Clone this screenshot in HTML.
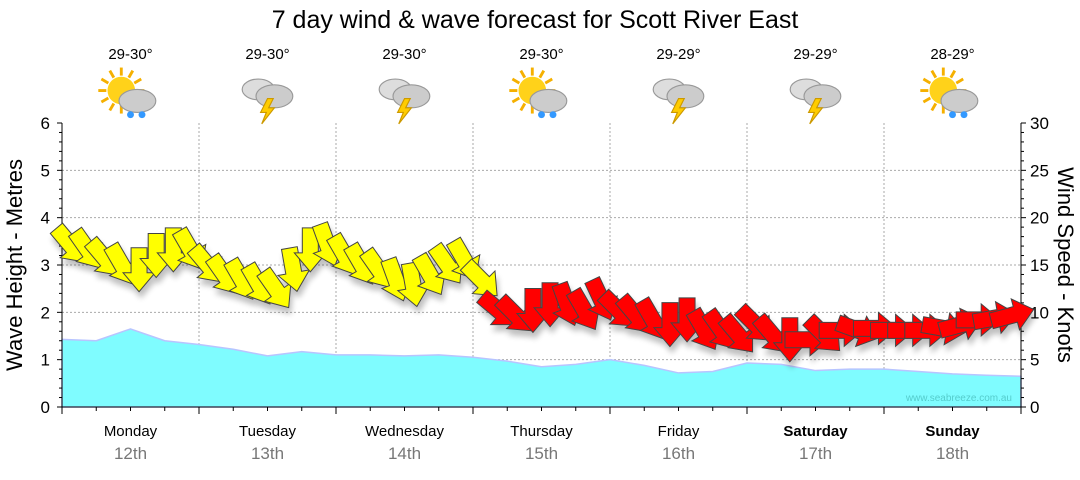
<!DOCTYPE html>
<html><head><meta charset="utf-8"><style>
body{margin:0;background:#fff;font-family:"Liberation Sans",sans-serif}
svg text{font-family:"Liberation Sans",sans-serif}
</style></head><body>
<svg id="c" width="1080" height="475" xmlns="http://www.w3.org/2000/svg">
<defs>
<filter id="sh" x="-50%" y="-50%" width="200%" height="200%"><feGaussianBlur in="SourceAlpha" stdDeviation="3"/><feOffset dx="2" dy="6"/><feComponentTransfer><feFuncA type="linear" slope="0.25"/></feComponentTransfer><feMerge><feMergeNode/><feMergeNode in="SourceGraphic"/></feMerge></filter>
</defs>
<text x="535" y="28" font-size="25" text-anchor="middle" fill="#000">7 day wind &amp; wave forecast for Scott River East</text>
<g id="grid"></g>
<g id="wave"></g>
<g id="axes"></g>
<g id="arrows" filter="url(#sh)"></g>
<g id="icons"></g>
<text transform="translate(22,265) rotate(-90)" font-size="22" text-anchor="middle">Wave Height - Metres</text>
<text transform="translate(1058,265) rotate(90)" font-size="22" text-anchor="middle">Wind Speed - Knots</text>
<text x="1012" y="401" font-size="10" text-anchor="end" fill="#5cc">www.seabreeze.com.au</text>
</svg>
<script>
const days=["Monday","Tuesday","Wednesday","Thursday","Friday","Saturday","Sunday"];
const dates=["12th","13th","14th","15th","16th","17th","18th"];
const temps=["29-30°","29-30°","29-30°","29-30°","29-29°","29-29°","28-29°"];
const iconTypes=["sunrain","storm","storm","sunrain","storm","storm","sunrain"];
const waveHours=[0,6,12,18,24,30,36,42,48,54,60,66,72,78,84,90,96,102,108,114,120,126,132,138,144,150,156,162,168];
const waveHeights=[1.43,1.40,1.65,1.40,1.32,1.22,1.08,1.17,1.10,1.10,1.08,1.10,1.05,0.97,0.85,0.90,1.00,0.88,0.72,0.75,0.93,0.90,0.77,0.80,0.80,0.75,0.70,0.67,0.65];
const windSpeeds=[17.1,16.6,15.7,15,14.5,16,16.6,16.6, 15,13.9,13.4,12.9,12.4,14.5,16.6,17.1, 16,15,14.5,13.4,12.9,13.9,15,15.5, 13.4,10.2,9.7,10.2,10.8,10.8,10.2,11.3, 10.2,9.7,9.2,8.7,9.2,8.1,8.1,7.6, 8.7,7.6,7.1,7.1,7.6,8.1,8.1,8.3, 8.1,8.1,8.1,8.3,8.7,9.2,9.4,9.7];
const windDirs=[50,55,50,60,90,90,90,60, 50,55,60,60,55,80,90,70, 60,60,55,70,80,60,55,60, 45,40,45,90,90,70,60,65, 45,50,60,90,90,60,55,50, 45,50,90,0,45,0,20,0, 0,0,0,10,-15,0,-10,-15];
const windColors=windSpeeds.map((v,i)=>i<25?"#ff0":"#f00");
const leftTicks=[0,1,2,3,4,5,6];
const rightTicks=[0,5,10,15,20,25,30];

const X0=62,X1=1021,Y0=407,Y1=123;
const xH=h=>X0+(X1-X0)*h/168;
const yM=m=>Y0-(Y0-Y1)*m/6;
const yK=k=>Y0-(Y0-Y1)*k/30;
const NS="http://www.w3.org/2000/svg";
function mk(tag,attrs,parent,txt){const e=document.createElementNS(NS,tag);for(const k in attrs)e.setAttribute(k,attrs[k]);if(txt!==undefined)e.textContent=txt;parent.appendChild(e);return e;}
const G=id=>document.getElementById(id);

leftTicks.forEach(t=>{if(t>0&&t<6){const l=mk('line',{x1:X0,x2:X1,y1:yM(t),y2:yM(t),stroke:'#aaa','stroke-dasharray':'2,2'},G('grid'));

}});
for(let d=1;d<7;d++){const l=mk('line',{x1:xH(d*24),x2:xH(d*24),y1:Y1,y2:Y0,stroke:'#aaa','stroke-dasharray':'2,2'},G('grid'));

}

let p=`M${xH(waveHours[0])},${Y0} `+waveHours.map((h,i)=>`L${xH(h)},${yM(waveHeights[i])}`).join(' ')+` L${xH(waveHours[waveHours.length-1])},${Y0} Z`;
const wa=mk('path',{d:p,fill:'#7ffcff',stroke:'#b8c4ff','stroke-width':1.5,'stroke-linejoin':'round'},G('wave'));



const ax=G('axes');
mk('line',{x1:X0,x2:X0,y1:Y1,y2:Y0,stroke:'#000'},ax);
mk('line',{x1:X1,x2:X1,y1:Y1,y2:Y0,stroke:'#000'},ax);
mk('line',{x1:X0,x2:X1,y1:Y0,y2:Y0,stroke:'#000'},ax);
for(let i=0;i<=30;i++){const y=yK(i);const big=i%5==0;
mk('line',{x1:X0-(big?5:3),x2:X0,y1:y,y2:y,stroke:'#000'},ax);
mk('line',{x1:X1,x2:X1+(big?5:3),y1:y,y2:y,stroke:'#000'},ax);}
leftTicks.forEach(t=>{const e=mk('text',{x:50,y:yM(t)+6,'font-size':17,'text-anchor':'end'},ax,t);

});
rightTicks.forEach(t=>{const e=mk('text',{x:1030,y:yK(t)+6,'font-size':17,'text-anchor':'start'},ax,t);

});
for(let h=0;h<=168;h+=6){const big=h%24==0;mk('line',{x1:xH(h),x2:xH(h),y1:Y0,y2:Y0+(big?7:4),stroke:'#000'},ax);}
days.forEach((d,i)=>{const cx=xH(i*24+12);const we=i>=5;
const a=mk('text',{x:cx,y:436,'font-size':15,'text-anchor':'middle','font-weight':we?'bold':'normal'},ax,d);


const b=mk('text',{x:cx,y:459,'font-size':17,'text-anchor':'middle',fill:'#777'},ax,dates[i]);


const t=mk('text',{x:cx,y:59,'font-size':15,'text-anchor':'middle'},G('icons'),temps[i]);


const g=mk('g',{transform:`translate(${cx},94) scale(1.15)`},G('icons'));


if(iconTypes[i]=='sunrain'){
 for(let k=0;k<12;k++){const an=k*Math.PI/6;mk('line',{x1:-8+Math.cos(an)*13,y1:-3+Math.sin(an)*13,x2:-8+Math.cos(an)*20,y2:-3+Math.sin(an)*20,stroke:'#f5b000','stroke-width':2.5},g);}
 mk('circle',{cx:-8,cy:-3,r:12,fill:'#ffd21a'},g);
 mk('ellipse',{cx:6,cy:6,rx:16,ry:10,fill:'#ccc',stroke:'#999'},g);
 mk('circle',{cx:0,cy:18,r:3,fill:'#39f'},g);mk('circle',{cx:10,cy:18,r:3,fill:'#39f'},g);
}else{
 mk('ellipse',{cx:-8,cy:-4,rx:14,ry:9,fill:'#ddd',stroke:'#999'},g);
 mk('ellipse',{cx:6,cy:2,rx:16,ry:10,fill:'#ccc',stroke:'#999'},g);
 mk('polygon',{points:'0,4 -6,16 -1,16 -5,26 6,12 1,12 5,4',fill:'#fc0',stroke:'#c90'},g);
}
});

windSpeeds.forEach((k,i)=>{const x=xH(i*3+1.5),y=yK(k);
const a=mk('polygon',{points:'-22,-8 3,-8 3,-16 22,0 3,16 3,8 -22,8',fill:windColors[i],stroke:'#444','stroke-width':1,transform:`translate(${x},${y}) rotate(${windDirs[i]})`},G('arrows'));

});
</script>
</body></html>
